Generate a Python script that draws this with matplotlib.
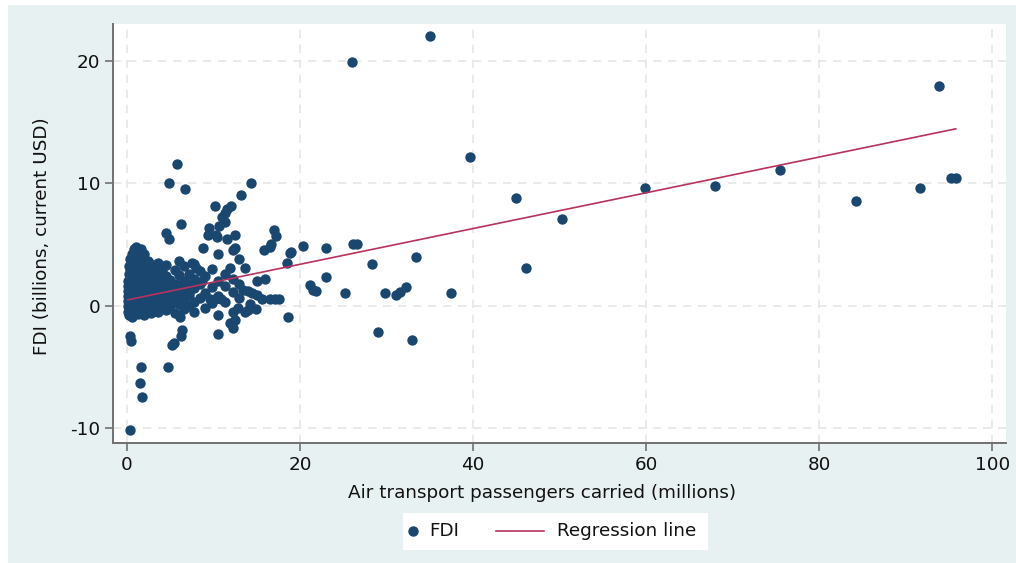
import numpy as np
import matplotlib
matplotlib.use("Agg")
import matplotlib.pyplot as plt
from matplotlib.patches import Rectangle
from matplotlib.lines import Line2D

plt.rcParams['font.family'] = ['DejaVu Sans']
plt.rcParams['axes.unicode_minus'] = False

# air passengers (millions) vs FDI (billions USD), sparse part
px_sparse = [35.0, 26.0, 93.8, 39.6, 45.0, 50.3, 59.9, 68.0, 75.5, 84.3, 91.7, 95.3, 95.8,
             46.1, 37.4, 33.4, 32.9, 29.0, 32.3, 31.5, 31.1, 29.8, 28.3, 26.1, 26.6,
             25.2, 23.0, 23.0, 21.1, 21.5, 20.3, 19.0, 18.8, 18.6, 18.5, 17.1, 17.6,
             17.0, 17.2, 16.7, 16.5, 15.6, 16.0, 15.8, 14.3, 13.2, 12.0, 11.3, 11.6,
             11.0, 10.6, 5.8, 4.9, 6.7, 10.2, 11.3, 6.2, 9.5, 4.5, 4.9, 10.4, 8.8,
             9.4, 10.3, 12.5, 10.5, 11.6, 12.5, 12.2, 13.6, 11.9, 13.4, 12.8, 11.9,
             12.5, 10.5, 12.2, 8.0, 7.2, 9.6, 10.2, 10.9, 14.2, 5.9, 6.1, 6.3,
             4.7, 5.2, 1.6, 1.5, 1.7, 0.4, 0.3, 0.5, 6.2, 5.4, 13.6, 14.9, 16.5,
             14.4, 21.8, 12.9, 7.5, 8.7]
py_sparse = [22.0, 19.9, 17.9, 12.1, 8.8, 7.1, 9.6, 9.8, 11.1, 8.5, 9.6, 10.4, 10.4,
             3.1, 1.0, 4.0, -2.8, -2.2, 1.5, 1.1, 0.9, 1.0, 3.4, 5.0, 5.0,
             1.0, 4.7, 2.3, 1.7, 1.3, 4.9, 4.4, 4.3, -0.9, 3.5, 0.5, 0.5,
             6.2, 5.7, 5.0, 4.8, 0.5, 2.2, 4.5, 10.0, 9.0, 8.1, 7.6, 7.9,
             7.2, 6.5, 11.6, 10.0, 9.5, 8.1, 6.8, 6.7, 6.3, 5.9, 5.4, 5.6, 4.7,
             5.8, 5.8, 5.8, 4.2, 5.4, 4.7, 4.5, 3.1, 3.1, 1.3, -0.2, -1.4,
             -1.2, -2.3, -1.8, 3.1, 1.1, 0.5, 0.5, 0.5, 0.1, 1.7, -0.9, -2.0,
             -5.0, -3.2, -5.0, -6.3, -7.5, -10.2, -2.5, -2.9, -2.5, -3.1, -0.5, -0.3, 0.5,
             1.0, 1.2, 3.8, 3.5, 2.0]

# dense cluster of small-traffic countries
px_dense = [0.1, 0.1, 0.1, 0.1, 0.1, 0.1, 0.1,
            0.2, 0.2, 0.2, 0.2, 0.2, 0.2, 0.2,
            0.4, 0.4, 0.4, 0.4, 0.4, 0.4, 0.4,
            0.6, 0.6, 0.6, 0.6, 0.6, 0.6, 0.6, 0.6,
            0.8, 0.8, 0.8, 0.8, 0.8, 0.8, 0.8, 0.8,
            1.0, 1.0, 1.0, 1.0, 1.0, 1.0, 1.0, 1.0,
            1.3, 1.3, 1.3, 1.3, 1.3, 1.3, 1.3, 1.3,
            1.6, 1.6, 1.6, 1.6, 1.6, 1.6, 1.6, 1.6,
            2.0, 2.0, 2.0, 2.0, 2.0, 2.0, 2.0, 2.0,
            2.4, 2.4, 2.4, 2.4, 2.4, 2.4, 2.4,
            2.8, 2.8, 2.8, 2.8, 2.8, 2.8, 2.8,
            3.2, 3.2, 3.2, 3.2, 3.2, 3.2,
            3.6, 3.6, 3.6, 3.6, 3.6, 3.6,
            4.0, 4.0, 4.0, 4.0, 4.0,
            4.5, 4.5, 4.5, 4.5, 4.5, 4.5,
            5.0, 5.0, 5.0, 5.0,
            5.5, 5.5, 5.5, 5.5, 5.5,
            6.0, 6.0, 6.0, 6.0, 6.0,
            6.6, 6.6, 6.6, 6.6, 6.6,
            7.2, 7.2, 7.2, 7.2,
            7.8, 7.8, 7.8, 7.8, 7.8,
            8.4, 8.4, 8.4,
            9.0, 9.0, 9.0,
            9.8, 9.8, 9.8,
            10.5, 10.5, 10.5,
            11.3, 11.3, 11.3,
            12.2, 12.2, 12.2,
            13.0, 13.0,
            14.0, 14.0,
            15.0, 15.0]
py_dense = [-0.5, 0.0, 0.4, 0.8, 1.2, 1.6, 2.0,
            -0.8, -0.2, 0.3, 1.0, 1.8, 2.6, 3.2,
            -0.4, 0.1, 0.6, 1.4, 2.2, 3.0, 3.8,
            -0.9, -0.3, 0.2, 0.9, 1.5, 2.4, 3.4, 4.2,
            -0.6, 0.0, 0.5, 1.1, 1.9, 2.8, 3.6, 4.6,
            -0.2, 0.3, 0.8, 1.6, 2.3, 3.1, 4.0, 4.8,
            -0.7, 0.0, 0.6, 1.2, 2.0, 2.7, 3.5, 4.4,
            -0.4, 0.2, 0.9, 1.5, 2.2, 3.0, 3.8, 4.6,
            -0.8, -0.1, 0.5, 1.1, 1.8, 2.5, 3.3, 4.2,
            -0.3, 0.3, 0.8, 1.4, 2.1, 2.9, 3.6,
            -0.6, 0.0, 0.6, 1.3, 2.0, 2.6, 3.4,
            -0.2, 0.4, 1.0, 1.7, 2.3, 3.0,
            -0.5, 0.1, 0.7, 1.3, 2.6, 3.5,
            -0.1, 0.5, 1.1, 2.0, 2.8,
            -0.4, 0.2, 0.9, 1.6, 2.4, 3.3,
            0.0, 0.6, 1.2, 2.1,
            -0.6, 0.3, 1.0, 1.8, 2.9,
            0.1, 0.8, 1.5, 2.5, 3.6,
            -0.3, 0.4, 1.2, 2.0, 3.2,
            0.0, 0.9, 1.7, 2.6,
            -0.5, 0.3, 1.4, 2.2, 3.4,
            0.6, 1.8, 2.8,
            -0.2, 1.0, 2.4,
            0.2, 1.5, 3.0,
            -0.8, 0.8, 2.0,
            0.3, 1.6, 2.6,
            -0.5, 1.1, 2.2,
            0.6, 1.8,
            -0.4, 1.2,
            0.9, 2.0]

# fitted line FDI = a + b * passengers
reg_intercept = 0.45
reg_slope = 0.146

legend_labels = ['FDI', 'Regression line']

x_all = np.array(px_sparse + px_dense)
y_all = np.array(py_sparse + py_dense)

navy = '#1a476f'
maroon = '#b8325e'
bg = '#e8f1f2'
txt = '#111111'
fs = 13.2

W, H = 1016, 563
fig = plt.figure(figsize=(W / 100, H / 100), dpi=100, facecolor=bg)
ax = fig.add_axes([113 / W, 1 - 443 / H, (1006 - 113) / W, (443 - 24) / H])
ax.set_facecolor('white')

ax.scatter(x_all, y_all, s=56, color=navy, linewidths=0, zorder=3)
xl = np.array([x_all.min(), x_all.max()])
ax.plot(xl, reg_intercept + reg_slope * xl, color=maroon, lw=1.2, zorder=4)

ax.set_xlim(-1.62, 101.6)
ax.set_ylim(-11.23, 23.0)
ax.set_xticks([0, 20, 40, 60, 80, 100])
ax.set_yticks([-10, 0, 10, 20])
ax.grid(True, color='#e6e6e6', linestyle=(0, (5, 4)), lw=1.2, zorder=0)

for s in ['top', 'right']:
    ax.spines[s].set_visible(False)
for s in ['left', 'bottom']:
    ax.spines[s].set_color('#707070')
    ax.spines[s].set_linewidth(1.4)
ax.tick_params(length=6, width=1.2, color='#707070', labelsize=fs, pad=3,
               labelcolor=txt)

fig.text(542 / W, 1 - 493 / H, 'Air transport passengers carried (millions)',
         ha='center', va='center', fontsize=fs, color=txt)
fig.text(42 / W, 1 - 236 / H, 'FDI (billions, current USD)', rotation=90,
         ha='center', va='center', fontsize=fs, color=txt)

# legend box below the plot
fig.patches.append(Rectangle((403 / W, 1 - 550 / H), (708 - 403) / W, 37 / H,
                             transform=fig.transFigure, facecolor='white',
                             edgecolor='none'))
ly = 1 - 531 / H
fig.add_artist(Line2D([413 / W], [ly], marker='o', markersize=6.5, color=navy,
                      linestyle='none', transform=fig.transFigure))
fig.text(429 / W, ly, legend_labels[0], ha='left', va='center', fontsize=fs, color=txt)
fig.add_artist(Line2D([496 / W, 544 / W], [ly, ly], color=maroon, lw=1.2,
                      transform=fig.transFigure))
fig.text(557 / W, ly, legend_labels[1], ha='left', va='center', fontsize=fs, color=txt)

# white margin strip along top and left edge
fig.patches.append(Rectangle((0, 1 - 5 / H), 1, 5 / H, transform=fig.transFigure,
                             facecolor='white', edgecolor='none', zorder=-1))
fig.patches.append(Rectangle((0, 0), 8 / W, 1, transform=fig.transFigure,
                             facecolor='white', edgecolor='none', zorder=-1))

fig.savefig('out.png', dpi=100, facecolor=bg)
